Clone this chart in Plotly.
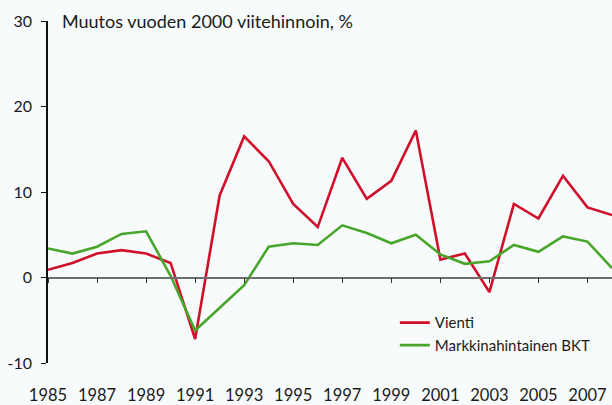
import plotly.graph_objects as go

years = list(range(1985, 2009))
vienti = [0.9, 1.7, 2.8, 3.2, 2.8, 1.7, -7.2, 9.6, 16.5, 13.6, 8.6, 5.9,
          14.0, 9.2, 11.3, 17.2, 2.1, 2.8, -1.7, 8.6, 6.9, 11.9, 8.2, 7.3]
bkt = [3.4, 2.8, 3.6, 5.1, 5.4, 0.2, -6.2, -3.6, -0.9, 3.6, 4.0, 3.8,
       6.1, 5.2, 4.0, 5.0, 2.7, 1.6, 1.9, 3.8, 3.0, 4.8, 4.2, 1.1]
x_ticks = list(range(1985, 2008, 2))
y_ticks = [-10, 0, 10, 20, 30]
y_tick_text = ["-10", "0", "10", "20", "30"]
title_text = "Muutos vuoden 2000 viitehinnoin, %"

FONT = "Lato"
RED = "#d0102b"
GREEN = "#49a62c"
BG = "#f8fbfb"

fig = go.Figure()
fig.add_trace(go.Scatter(x=years, y=vienti, mode="lines", name="Vienti",
                         line=dict(color=RED, width=2.6)))
fig.add_trace(go.Scatter(x=years, y=bkt, mode="lines", name="Markkinahintainen BKT",
                         line=dict(color=GREEN, width=2.6)))
# invisible trace on the zero-line axis so it is rendered
fig.add_trace(go.Scatter(x=[years[0]], y=[0], xaxis="x2", mode="markers",
                         marker=dict(opacity=0), showlegend=False, hoverinfo="skip"))

fig.update_layout(
    width=612, height=405,
    margin=dict(l=48, r=0, t=21, b=38),
    paper_bgcolor=BG, plot_bgcolor=BG,
    font=dict(family=FONT, size=16, color="#1a1a1a"),
    showlegend=True,
    legend=dict(x=0.615, y=0.0853, xanchor="left", yanchor="middle",
                bgcolor="rgba(0,0,0,0)", font=dict(size=15, family=FONT),
                tracegroupgap=0),
    xaxis=dict(range=[1985, 2008], tickvals=x_ticks, ticktext=[str(v) for v in x_ticks],
               showline=False, showgrid=False, zeroline=False, ticks="",
               ticklabelstandoff=20, fixedrange=True, tickfont=dict(size=16.5)),
    xaxis2=dict(range=[1985, 2008], tickvals=x_ticks, overlaying="x", anchor="free",
                position=0.25, side="bottom", showline=True, linecolor="#6e6e6e",
                linewidth=1.5, ticks="outside", ticklen=5, tickwidth=1.2,
                tickcolor="#333333", showticklabels=False, showgrid=False,
                zeroline=False),
    yaxis=dict(range=[-10, 30], tickvals=y_ticks, ticktext=y_tick_text,
               showline=True, linecolor="#111111",
               linewidth=1.5, ticks="outside", ticklen=5, tickwidth=1.2,
               tickcolor="#111111", showgrid=False, zeroline=False,
               ticklabelstandoff=6),
    annotations=[dict(text=title_text, xref="paper", yref="paper", x=0.0213, y=1.0,
                      xanchor="left", yanchor="middle", showarrow=False,
                      font=dict(size=18, family=FONT))],
)

fig.write_html("out.html", config={"displayModeBar": False},
               post_script="document.body.style.margin='0';document.body.style.overflow='hidden';")
